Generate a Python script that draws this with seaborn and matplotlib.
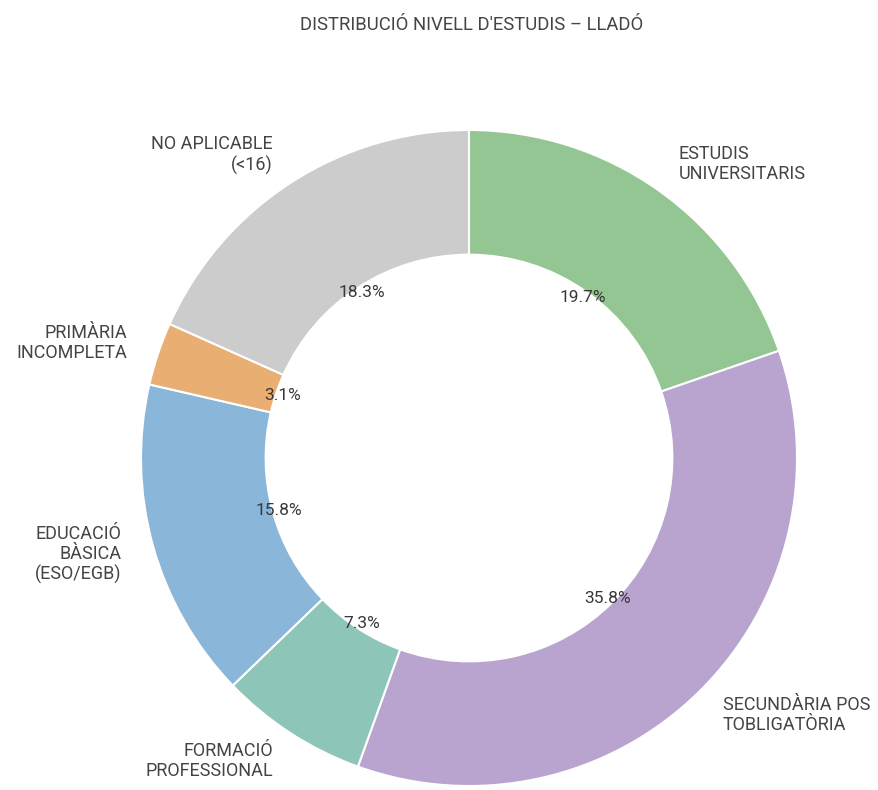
import matplotlib
matplotlib.use("Agg")
import matplotlib.pyplot as plt
import seaborn as sns

# Data (clockwise from 12 o'clock)
categories = [
    "ESTUDIS\nUNIVERSITARIS",
    "SECUNDÀRIA POS\nTOBLIGATÒRIA",
    "FORMACIÓ\nPROFESSIONAL",
    "EDUCACIÓ\nBÀSICA\n(ESO/EGB)",
    "PRIMÀRIA\nINCOMPLETA",
    "NO APLICABLE\n(<16)",
]
shares = [19.7, 35.8, 7.3, 15.8, 3.1, 18.3]
colors = ["#93c693", "#b8a4cf", "#8ec5b9", "#8ab6d9", "#e9ae72", "#cccccc"]

sns.set_theme(style="white")
plt.rcParams["font.family"] = ["Roboto", "DejaVu Sans"]

fig = plt.figure(figsize=(8.79, 7.9), dpi=100)
ax = fig.add_axes([0, 0, 1, 1])

palette = sns.color_palette(colors)
wedges, texts, autotexts = ax.pie(
    shares,
    labels=categories,
    colors=palette,
    startangle=90,
    counterclock=False,
    autopct="%.1f%%",
    pctdistance=0.6,
    labeldistance=1.1,
    radius=1.0,
    wedgeprops=dict(width=0.38, edgecolor="white", linewidth=1.5),
    textprops=dict(fontsize=13, color="#444444", fontweight="normal"),
)
for t in texts:
    t.set_linespacing(1.15)
for t in autotexts:
    t.set_fontsize(12.5)
    t.set_color("#383838")

# place the donut: centre at (469, 458) px, radius 328 px
R = 328.0
cx, cy = 469.0, 458.0
ax.set_xlim(-cx / R, (879 - cx) / R)
ax.set_ylim(-(790 - cy) / R, cy / R)
ax.set_aspect("auto")
ax.axis("off")

fig.text(472 / 879, 1 - 25 / 790, "DISTRIBUCIÓ NIVELL D'ESTUDIS – LLADÓ",
         ha="center", va="center", fontsize=13.3, color="#444444", fontweight="normal")

fig.savefig("out.png", dpi=100, facecolor="white")
